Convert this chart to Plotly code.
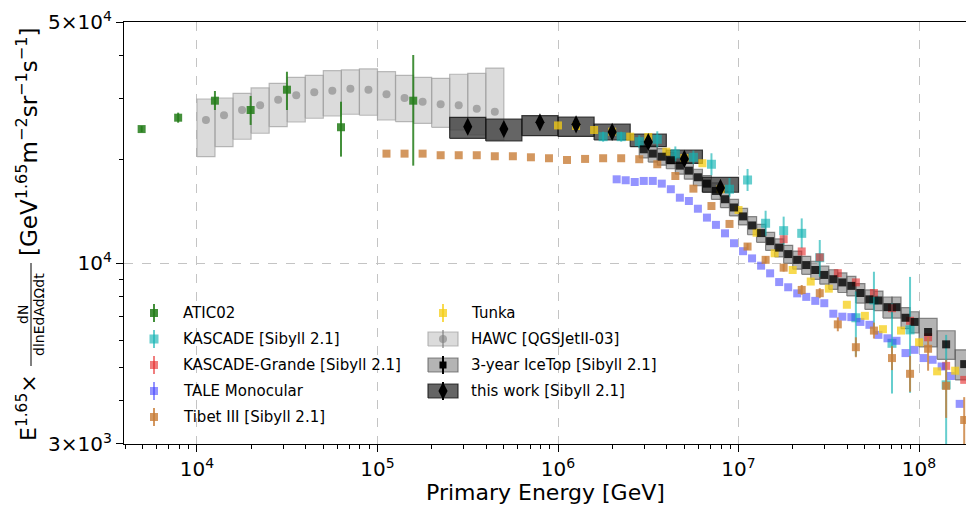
import plotly.graph_objects as go

# ---------------- data (E in GeV, flux = E^1.65 dN/dlnE dA dOmega dt) ----------------
# ATIC02
atic_E = [4.94e3, 7.87e3, 1.258e4, 1.984e4, 3.152e4, 6.28e4, 1.578e5]
atic_F = [24490, 26420, 29590, 27810, 31840, 24790, 29590]
atic_err_hi = [500, 900, 1980, 2720, 4050, 4600, 10540]
atic_err_lo = [490, 870, 1780, 2640, 4030, 4410, 10400]

# HAWC [QGSJetII-03] (bins of 0.1 in log10 E)
hawc_log10E_edges = [4.0, 4.1, 4.2, 4.3, 4.4, 4.5, 4.6, 4.7, 4.8, 4.9, 5.0,
                     5.1, 5.2, 5.3, 5.4, 5.5, 5.6, 5.7]
hawc_F = [26020, 26850, 27810, 28700, 29790, 30680, 31300, 31630, 32050,
          31840, 30880, 30130, 29400, 28890, 28700, 28060, 27500]
hawc_sys_hi = [29930, 30130, 31090, 32210, 33230, 34580, 35050, 36140, 36320,
               36560, 35900, 35050, 34580, 34360, 35290, 35520, 36790]
hawc_sys_lo = [20370, 21780, 22880, 23820, 24890, 25670, 26320, 26720, 27030,
               26850, 26020, 25720, 25450, 24780, 24340, 23540, 22770]

# this work [Sibyll 2.1] (bins of 0.2 in log10 E)
tw_log10E_edges = [5.4, 5.6, 5.8, 6.0, 6.2, 6.4, 6.6, 6.8, 7.0]
tw_F = [24890, 24500, 25620, 25280, 24020, 22470, 20070, 16540]
tw_sys_hi = [26490, 26190, 26770, 26540, 25300, 23670, 21300, 17740]
tw_sys_lo = [23030, 22620, 23430, 23310, 22770, 21780, 19470, 16070]

# 3-year IceTop [Sibyll 2.1]
icetop_log10E_edges = [6.45, 6.5, 6.55, 6.6, 6.65, 6.7, 6.75, 6.8, 6.85, 6.9,
                       6.95, 7.0, 7.05, 7.1, 7.15, 7.2, 7.25, 7.3, 7.35, 7.4,
                       7.45, 7.5, 7.55, 7.6, 7.65, 7.7, 7.75, 7.8, 7.85, 7.9,
                       7.95, 8.0, 8.1, 8.2, 8.3]
icetop_F = [21400, 20790, 20370, 19890, 19190, 18560, 17760, 17020, 16210,
            15340, 14520, 13680, 12880, 12240, 11600, 11110, 10640, 10240,
            9890, 9570, 9260, 9000, 8810, 8610, 8210, 7870, 7810, 7470, 7470,
            6960, 6770, 6330, 5830, 5110]
icetop_sys = [0.055, 0.055, 0.055, 0.055, 0.055, 0.055, 0.055, 0.055, 0.055,
              0.055, 0.055, 0.055, 0.06, 0.06, 0.06, 0.06, 0.06, 0.06, 0.06,
              0.06, 0.06, 0.065, 0.065, 0.065, 0.065, 0.065, 0.065, 0.07,
              0.07, 0.07, 0.07, 0.095, 0.095, 0.10]

# Tibet III [Sibyll 2.1]
tibet_log10E = [5.05, 5.15, 5.25, 5.35, 5.45, 5.55, 5.65, 5.75, 5.85, 5.95,
                6.05, 6.15, 6.25, 6.35, 6.45, 6.55, 6.65, 6.75, 6.85, 6.95,
                7.05, 7.15, 7.25, 7.35, 7.45, 7.55, 7.65, 7.75, 7.85, 7.95,
                8.05, 8.15, 8.25]
tibet_F = [20790, 20790, 20790, 20570, 20570, 20570, 20430, 20430, 20290,
           20160, 19930, 20070, 20160, 20160, 20030, 19370, 17910, 16460,
           14660, 13010, 11190, 10240, 9720, 8380, 8200, 6660, 5720, 6390,
           5320, 4790, 5660, 4420, 3520]
tibet_err_hi = [0] * 20 + [250, 250, 250, 280, 280, 320, 390, 350, 440, 610,
                           470, 840, 580]
tibet_err_lo = [0] * 20 + [250, 250, 250, 270, 270, 300, 370, 330, 410, 540,
                           770, 850, 800]

# Tunka
tunka_log10E = [6.0, 6.1, 6.2, 6.3, 6.4, 6.5, 6.6, 6.7, 6.8, 6.9, 7.0, 7.1,
                7.2, 7.3, 7.4, 7.5, 7.6, 7.7, 7.8, 7.9, 8.0, 8.1, 8.2]
tunka_F = [25090, 25000, 24340, 24070, 23280, 23230, 21060, 20200, 19500,
           16400, 14280, 12270, 10700, 9570, 8860, 8450, 7590, 7050, 6450,
           6390, 5910, 4870, 4890]

# TALE Monocular
tale_log10E = [6.325, 6.375, 6.425, 6.475, 6.525, 6.575, 6.625, 6.675, 6.725,
               6.775, 6.825, 6.875, 6.925, 6.975, 7.025, 7.075, 7.125, 7.175,
               7.225, 7.275, 7.325, 7.375, 7.425, 7.475, 7.525, 7.575, 7.625,
               7.675, 7.725, 7.775, 7.825, 7.875, 7.925, 7.975, 8.025, 8.075,
               8.125, 8.175, 8.225]
tale_F = [17520, 17410, 17210, 17330, 17330, 17020, 16400, 15500, 15160,
          14400, 13570, 12930, 12220, 11440, 10850, 10340, 9850, 9360, 8830,
          8530, 8190, 8000, 7790, 7670, 7150, 7010, 6990, 6770, 6640, 6210,
          6070, 5970, 5500, 5620, 5320, 5260, 5030, 4720, 3920]

# KASCADE [Sibyll 2.1]
kas_log10E = [6.25, 6.35, 6.45, 6.55, 6.65, 6.75, 6.85, 6.95, 7.05, 7.15,
              7.25, 7.35, 7.45, 7.65, 7.75, 7.85, 7.95, 8.15]
kas_F = [23280, 23280, 22520, 22880, 20750, 20290, 19370, 16400, 17440,
         13070, 12440, 12220, 10390, 6960, 7840, 5870, 6420, 4450]
kas_err_hi = [790, 780, 1000, 1250, 1060, 930, 1470, 1270, 1330, 1140, 1220,
              1280, 1300, 1330, 1620, 1790, 2720, 1760]
kas_err_lo = [760, 760, 960, 1190, 1010, 890, 1370, 800, 1230, 1050, 1110,
              1160, 1240, 1580, 1560, 1670, 2200, 2000]

# KASCADE-Grande [Sibyll 2.1]
kg_log10E = [7.25, 7.35, 7.45, 7.55, 7.65, 7.75, 7.85, 7.95, 8.05, 8.15, 8.25]
kg_F = [11750, 10830, 10410, 9370, 8810, 8210, 7420, 6820, 6110, 5050, 4600]

# axis ticks
x_tickvals = [1e4, 1e5, 1e6, 1e7, 1e8]
x_ticktext = ["10<sup>4</sup>", "10<sup>5</sup>", "10<sup>6</sup>",
              "10<sup>7</sup>", "10<sup>8</sup>"]
y_tickvals = [3000, 10000, 50000]
y_ticktext = ["3×10<sup>3</sup>", "10<sup>4</sup>", "5×10<sup>4</sup>"]

# legend labels (two columns, as in the original)
legend_col1 = ["ATIC02", "KASCADE [Sibyll 2.1]", "KASCADE-Grande [Sibyll 2.1]",
               "TALE Monocular", "Tibet III [Sibyll 2.1]"]
legend_col2 = ["Tunka", "HAWC [QGSJetII-03]", "3-year IceTop [Sibyll 2.1]",
               "this work [Sibyll 2.1]"]

# ---------------- style ----------------
FONT = "DejaVu Sans"
W, H = 966, 507
ML, MR, MT, MB = 124, 0, 22, 63
PW, PH = W - ML - MR, H - MT - MB

C_ATIC = "rgba(35,125,25,0.85)"
C_KAS = "rgba(20,180,180,0.65)"
C_KG = "rgba(230,40,40,0.6)"
C_TALE = "rgba(60,60,255,0.55)"
C_TIBET = "rgba(200,125,55,0.8)"
C_TUNKA = "rgba(245,205,20,0.75)"
C_HAWC_PT = "rgba(128,128,128,0.6)"
C_HAWC_BOX = "rgba(200,200,200,0.65)"
C_HAWC_EDGE = "rgba(160,160,160,0.7)"
C_IT_PT = "rgba(0,0,0,0.8)"
C_IT_BOX = "rgba(130,130,130,0.6)"
C_IT_EDGE = "rgba(90,90,90,0.7)"
C_TW_BOX = "rgba(50,50,50,0.75)"
C_TW_EDGE = "rgba(20,20,20,0.8)"


def centers(edges):
    return [10 ** ((a + b) / 2) for a, b in zip(edges[:-1], edges[1:])]


def box_trace(edges, lo, hi, fill, line):
    xs, ys = [], []
    for a, b, l, h in zip(edges[:-1], edges[1:], lo, hi):
        xa, xb = 10 ** a, 10 ** b
        xs += [xa, xb, xb, xa, xa, None]
        ys += [l, l, h, h, l, None]
    return go.Scatter(x=xs, y=ys, mode="lines", fill="toself",
                      fillcolor=fill, line=dict(color=line, width=1.2),
                      hoverinfo="skip", showlegend=False)


def pts(x, y, color, symbol="square", size=8, eh=None, el=None, ecolor=None):
    kw = {}
    if eh is not None:
        kw["error_y"] = dict(type="data", array=eh, arrayminus=el,
                             color=ecolor or color, thickness=2, width=0)
    return go.Scatter(x=x, y=y, mode="markers", showlegend=False,
                      marker=dict(symbol=symbol, size=size, color=color,
                                  line=dict(width=0)), **kw)


fig = go.Figure()

# systematic boxes
fig.add_trace(box_trace(hawc_log10E_edges, hawc_sys_lo, hawc_sys_hi,
                        C_HAWC_BOX, C_HAWC_EDGE))
it_lo = [f * (1 - s) for f, s in zip(icetop_F, icetop_sys)]
it_hi = [f * (1 + s) for f, s in zip(icetop_F, icetop_sys)]
fig.add_trace(box_trace(icetop_log10E_edges, it_lo, it_hi, C_IT_BOX, C_IT_EDGE))
fig.add_trace(box_trace(tw_log10E_edges, tw_sys_lo, tw_sys_hi, C_TW_BOX, C_TW_EDGE))

# points
fig.add_trace(pts(atic_E, atic_F, C_ATIC, eh=atic_err_hi, el=atic_err_lo))
fig.add_trace(pts([10 ** v for v in kas_log10E], kas_F, C_KAS, size=9,
                  eh=kas_err_hi, el=kas_err_lo))
fig.add_trace(pts([10 ** v for v in kg_log10E], kg_F, C_KG))
fig.add_trace(pts([10 ** v for v in tale_log10E], tale_F, C_TALE))
fig.add_trace(pts([10 ** v for v in tibet_log10E], tibet_F, C_TIBET,
                  eh=tibet_err_hi, el=tibet_err_lo))
fig.add_trace(pts([10 ** v for v in tunka_log10E], tunka_F, C_TUNKA))
fig.add_trace(pts(centers(hawc_log10E_edges), hawc_F, C_HAWC_PT,
                  symbol="circle", size=8))
fig.add_trace(pts(centers(icetop_log10E_edges), icetop_F, C_IT_PT, size=8))
fig.add_trace(pts(centers(tw_log10E_edges), tw_F, "black",
                  symbol="diamond-tall", size=13))

# ---------------- legend (two columns, drawn on a hidden overlay axis) ----------------
ROW0, ROWSTEP = 313, 26          # px from top
COL_GLYPH = [154, 443]           # px from left
COL_TEXT = [181, 469]


def u(px):
    return (px - ML) / PW


def v(py):
    return (H - MB - py) / PH


glyphs = {
    "ATIC02": (C_ATIC, "square", 8, None, None),
    "KASCADE [Sibyll 2.1]": (C_KAS, "square", 9, None, None),
    "KASCADE-Grande [Sibyll 2.1]": (C_KG, "square", 8, None, None),
    "TALE Monocular": (C_TALE, "square", 8, None, None),
    "Tibet III [Sibyll 2.1]": (C_TIBET, "square", 8, None, None),
    "Tunka": (C_TUNKA, "square", 8, None, None),
    "HAWC [QGSJetII-03]": (C_HAWC_PT, "circle", 8, C_HAWC_BOX, C_HAWC_EDGE),
    "3-year IceTop [Sibyll 2.1]": ("black", "square", 7, C_IT_BOX, C_IT_EDGE),
    "this work [Sibyll 2.1]": ("black", "diamond-tall", 13, C_TW_BOX, C_TW_EDGE),
}
for ci, col in enumerate([legend_col1, legend_col2]):
    for ri, name in enumerate(col):
        color, sym, size, box, edge = glyphs[name]
        cy = ROW0 + ri * ROWSTEP
        cx = COL_GLYPH[ci]
        if box:
            fig.add_trace(go.Scatter(
                x=[u(cx - 15), u(cx + 15), u(cx + 15), u(cx - 15), u(cx - 15)],
                y=[v(cy + 7), v(cy + 7), v(cy - 7), v(cy - 7), v(cy + 7)],
                xaxis="x2", yaxis="y2", mode="lines", fill="toself",
                fillcolor=box, line=dict(color=edge, width=1.2),
                showlegend=False, hoverinfo="skip"))
        fig.add_trace(go.Scatter(
            x=[u(cx)], y=[v(cy)], xaxis="x2", yaxis="y2", mode="markers",
            marker=dict(symbol=sym, size=size, color=color, line=dict(width=0)),
            error_y=dict(type="constant", value=9 / PH, color=color,
                         thickness=2, width=0),
            showlegend=False, hoverinfo="skip"))
        fig.add_annotation(text=name, xref="paper", yref="paper",
                           x=u(COL_TEXT[ci]), y=v(cy), xanchor="left",
                           yanchor="middle", showarrow=False,
                           font=dict(family=FONT, size=15, color="black"))

# ---------------- axes ----------------
minor_x = [m * 10 ** d for d in range(3, 9) for m in range(2, 10)]
minor_y = [4000, 5000, 6000, 7000, 8000, 9000, 20000, 30000, 40000]

axis_common = dict(type="log", showline=True, linecolor="black", linewidth=1.3,
                   mirror=True, ticks="outside", ticklen=7, tickwidth=1.3,
                   tickcolor="black", showgrid=True, gridcolor="#c4c4c4",
                   griddash="dash", gridwidth=1, zeroline=False,
                   automargin=False,
                   tickfont=dict(family=FONT, size=20, color="black"))

fig.update_layout(
    width=W, height=H,
    margin=dict(l=ML, r=MR, t=MT, b=MB, autoexpand=False),
    plot_bgcolor="white", paper_bgcolor="white",
    font=dict(family=FONT, color="black"),
    showlegend=False,
    xaxis=dict(range=[3.596, 8.26], tickmode="array", tickvals=x_tickvals,
               ticktext=x_ticktext,
               minor=dict(tickmode="array", tickvals=minor_x, ticks="outside",
                          ticklen=4, tickwidth=1, tickcolor="black",
                          showgrid=False),
               **axis_common),
    yaxis=dict(range=[3.4771, 4.6990], tickmode="array", tickvals=y_tickvals,
               ticktext=y_ticktext,
               minor=dict(tickmode="array", tickvals=minor_y, ticks="outside",
                          ticklen=4, tickwidth=1, tickcolor="black",
                          showgrid=False),
               **axis_common),
    xaxis2=dict(overlaying="x", range=[0, 1], visible=False, fixedrange=True),
    yaxis2=dict(overlaying="y", range=[0, 1], visible=False, fixedrange=True),
)

# x-axis title
fig.add_annotation(text="Primary Energy [GeV]", xref="paper", yref="paper",
                   x=0.5, y=v(493), xanchor="center", yanchor="middle",
                   showarrow=False, font=dict(family=FONT, size=22))

# composite y-axis title
ann = dict(xref="paper", yref="paper", showarrow=False, textangle=-90,
           xanchor="center", yanchor="middle")
fig.add_annotation(text="E<sup>1.65</sup>×", x=u(27), y=v(408),
                   font=dict(family=FONT, size=22), **ann)
fig.add_annotation(text="dN", x=u(23), y=v(315),
                   font=dict(family=FONT, size=14), **ann)
fig.add_annotation(text="dlnEdAdΩdt", x=u(39), y=v(315),
                   font=dict(family=FONT, size=14), **ann)
fig.add_shape(type="line", xref="paper", yref="paper", x0=u(31), x1=u(31),
              y0=v(366), y1=v(263), line=dict(color="black", width=1))
fig.add_annotation(text="[GeV<sup>1.65</sup>m<sup>−2</sup>sr<sup>−1</sup>s<sup>−1</sup>]",
                   x=u(27), y=v(142), font=dict(family=FONT, size=23), **ann)

# page body margin off so the figure starts at the window's top-left corner
fig.write_html("out.html", config={"displayModeBar": False},
               post_script="document.body.style.margin='0';"
                           "document.body.style.overflow='hidden';")
